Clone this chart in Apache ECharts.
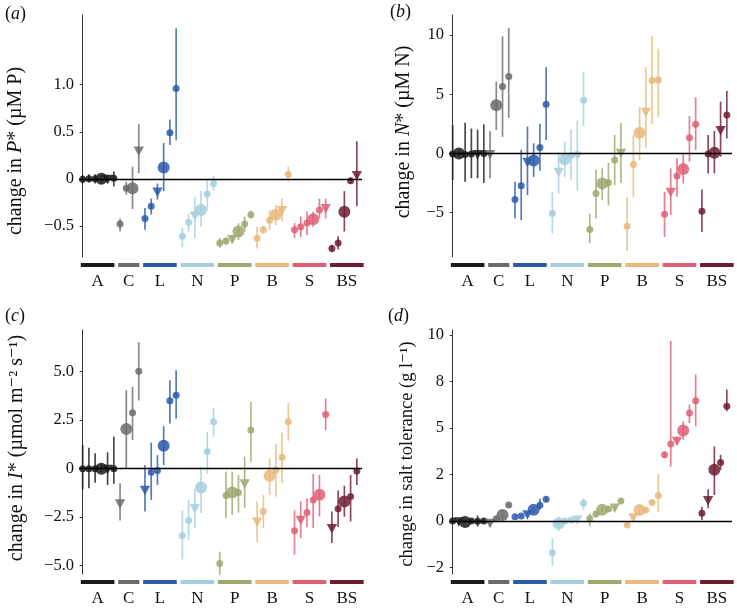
<!DOCTYPE html>
<html>
<head>
<meta charset="utf-8">
<script src="https://cdn.jsdelivr.net/npm/echarts@6/dist/echarts.min.js"></script>
<style>
  html, body { margin: 0; padding: 0; background: #fff; }
  #chart { width: 737px; height: 609px; }
</style>
</head>
<body>
<div id="chart"></div>
<script>
// groups along the x axis, in order
var groupNames = ["A", "C", "L", "N", "P", "B", "S", "BS"];
var groupSizes = [6, 4, 6, 6, 6, 6, 6, 5];
var groupSlots = [6, 4, 6, 6, 6, 6, 6, 6];
var groupColors = ["#1b1b1b", "#6b6b6b", "#2b5ba8", "#a5cfdc", "#9ea86f", "#e8b979", "#df5f76", "#6e1e31"];

// o = small circle, O = large circle, v = triangle
// (a) P*
var aMean = [
  -0.005, 0, 0, 0, 0, 0.005,
  -0.48, -0.10, -0.10, 0.30,
  -0.42, -0.29, -0.135, 0.12, 0.49, 0.96,
  -0.61, -0.46, -0.39, -0.33, -0.16, -0.05,
  -0.68, -0.66, -0.64, -0.56, -0.48, -0.38,
  -0.63, -0.54, -0.44, -0.38, -0.33, 0.05,
  -0.54, -0.51, -0.47, -0.43, -0.33, -0.31,
  -0.74, -0.68, -0.35, -0.02, 0.04];
var aLow = [
  -0.05, -0.04, -0.05, -0.05, -0.04, -0.08,
  -0.56, -0.17, -0.32, 0.06,
  -0.54, -0.38, -0.22, -0.13, 0.36, 0.41,
  -0.72, -0.56, -0.63, -0.51, -0.33, -0.13,
  -0.73, -0.70, -0.68, -0.65, -0.56, -0.42,
  -0.74, -0.58, -0.54, -0.49, -0.45, -0.03,
  -0.63, -0.62, -0.60, -0.51, -0.42, -0.42,
  -0.78, -0.75, -0.56, -0.05, -0.29];
var aHigh = [
  0.04, 0.05, 0.05, 0.04, 0.04, 0.08,
  -0.42, -0.03, 0.13, 0.58,
  -0.31, -0.21, -0.05, 0.38, 0.63, 1.60,
  -0.52, -0.37, -0.19, -0.13, -0.01, 0.035,
  -0.63, -0.62, -0.60, -0.47, -0.40, -0.34,
  -0.51, -0.50, -0.33, -0.28, -0.21, 0.13,
  -0.47, -0.40, -0.35, -0.35, -0.21, -0.21,
  -0.70, -0.61, -0.13, 0.01, 0.40];
var aShape = "oooOvo" + "ooOv" + "oovOoo" + "oovOoo" + "oovOoo" + "oooOvo" + "oooOov" + "ooOov";
var aTicks = [-0.5, 0, 0.5, 1.0];
var aTickLabels = ["\u22120.5", "0", "0.5", "1.0"];

// (b) N*
var bMean = [
  -0.05, 0.0, -0.1, -0.05, -0.05, -0.02,
  -0.05, 4.07, 5.65, 6.5,
  -3.9, -2.74, -0.7, -0.6, 0.5, 4.15,
  -5.08, -1.55, -0.5, -0.2, -0.08, 4.5,
  -6.44, -3.39, -2.54, -2.49, -0.56, 0.06,
  -6.16, -0.93, 1.75, 3.53, 6.16, 6.2,
  -5.14, -3.25, -1.92, -1.33, 1.33, 2.46,
  -4.89, -0.06, 0.06, 1.98, 3.25];
var bLow = [
  -2.26, -0.3, -2.4, -2.1, -2.1, -2.5,
  -2.1, 1.98, 1.4, 3.0,
  -5.5, -5.65, -3.53, -1.98, -1.47, 1.13,
  -6.78, -3.4, -2.0, -2.26, -3.1, 2.3,
  -7.6, -5.5, -3.95, -4.4, -2.7, -2.5,
  -8.25, -3.67, -0.56, 0.5, 2.5, 3.1,
  -7.06, -5.2, -3.67, -2.54, -0.7, 0.28,
  -6.64, -1.7, -1.7, -0.28, 1.27];
var bHigh = [
  2.4, 0.3, 2.6, 2.1, 2.0, 2.45,
  1.9, 6.07, 9.9, 10.6,
  -2.4, 0.3, 2.26, 0.85, 2.5, 7.3,
  -3.25, 0.14, 1.0, 2.06, 2.8, 6.9,
  -5.1, -1.36, -1.27, -0.8, 1.55, 2.6,
  -3.7, 1.55, 3.9, 7.3, 9.94, 8.84,
  -3.25, -1.27, -0.42, 0.06, 3.16, 4.75,
  -3.05, 1.55, 1.9, 4.38, 5.28];
var bShape = "oOoovo" + "vOoo" + "oovOoo" + "ovOooo" + "ooOoov" + "ooOvoo" + "ovoOoo" + "ooOvo";
var bTicks = [-5, 0, 5, 10];
var bTickLabels = ["\u22125", "0", "5", "10"];

// (c) I*
var cMean = [
  -0.02, -0.02, -0.02, -0.02, -0.02, -0.02,
  -1.8, 2.02, 2.86, 5.0,
  -1.11, -0.2, -0.12, 1.16, 3.48, 3.77,
  -3.46, -2.69, -2.05, -0.99, 0.86, 2.4,
  -4.91, -1.4, -1.25, -1.25, -0.77, 1.97,
  -2.74, -2.23, -0.39, -0.09, 0.57, 2.4,
  -3.22, -2.65, -2.28, -1.63, -1.37, 2.77,
  -3.08, -2.09, -1.71, -1.46, -0.14];
var cLow = [
  -1.08, -1.03, -0.74, -0.2, -0.86, -0.8,
  -2.69, 0.0, 1.46, 3.5,
  -2.23, -1.63, -0.86, 0.17, 2.31, 2.57,
  -4.7, -3.68, -3.08, -2.3, -0.26, 1.63,
  -5.5, -2.57, -2.4, -2.28, -2.05, 0.34,
  -3.82, -3.08, -1.37, -1.46, -0.77, 1.42,
  -4.45, -3.6, -3.03, -3.08, -2.48, 1.97,
  -3.85, -3.03, -2.5, -2.74, -0.86];
var cHigh = [
  1.2, 1.06, 0.77, 0.2, 0.82, 1.63,
  -0.77, 4.02, 4.2, 6.5,
  0.17, 1.32, 0.68, 2.17, 4.54, 5.05,
  -2.17, -1.63, -1.11, 0.08, 1.88, 3.13,
  -4.3, -0.17, -0.17, -0.34, 0.6, 3.42,
  -1.71, -1.37, 0.51, 1.25, 1.83, 3.37,
  -2.17, -1.71, -1.54, -0.29, -0.34, 3.6,
  -2.23, -1.15, -0.9, -0.34, 0.51];
var cShape = "oooOvo" + "vOoo" + "vooOoo" + "oovOoo" + "ooOovo" + "voOooo" + "ovooOo" + "voOoo";
var cTicks = [-5, -2.5, 0, 2.5, 5];
var cTickLabels = ["\u22125.0", "\u22122.5", "0", "2.5", "5.0"];

// (d) salt tolerance
var dMean = [
  0.0, -0.02, -0.05, 0.0, -0.02, 0.0,
  -0.09, 0.12, 0.32, 0.86,
  0.23, 0.27, 0.36, 0.6, 0.85, 1.17,
  -1.71, -0.13, 0.0, 0.05, 0.09, 0.95,
  0.14, 0.38, 0.6, 0.65, 0.72, 1.08,
  -0.22, 0.2, 0.59, 0.59, 0.99, 1.37,
  3.56, 4.14, 4.32, 4.86, 5.81, 6.47,
  0.41, 1.13, 2.75, 3.15, 6.17];
var dLow = [
  -0.1, -0.15, -0.1, -0.1, -0.3, -0.1,
  -0.15, 0.05, 0.05, 0.8,
  0.18, 0.2, 0.25, 0.45, 0.6, 1.05,
  -2.43, -0.54, -0.1, -0.05, 0.0, 0.59,
  -0.3, 0.2, 0.45, 0.5, 0.6, 1.0,
  -0.3, 0.1, 0.4, 0.45, 0.9, 0.5,
  3.4, 2.93, 4.15, 4.37, 5.27, 5.09,
  0.05, 0.68, 1.4, 2.75, 5.9];
var dHigh = [
  0.1, 0.1, 0.1, 0.1, 0.3, 0.1,
  -0.03, 0.2, 0.6, 0.92,
  0.28, 0.34, 0.47, 0.75, 1.2, 1.3,
  -0.94, 0.23, 0.1, 0.15, 0.18, 1.22,
  0.4, 0.55, 0.75, 0.8, 0.85, 1.16,
  -0.14, 0.3, 0.75, 0.7, 1.08, 2.54,
  3.7, 9.68, 4.5, 5.36, 6.26, 7.88,
  0.77, 1.71, 4.01, 3.56, 7.07];
var dShape = "ovOooo" + "voOo" + "oovOoo" + "oOoovo" + "ooOovo" + "ovOooo" + "oovOoo" + "ovOoo";
var dTicks = [-2.5, 0, 2.5, 5, 7.5, 10];
var dTickLabels = ["\u22122", "0", "2", "5", "8", "10"];

var serif = '"Liberation Serif", "DejaVu Serif", serif';
var ink = "#111";
var shapeCode = { o: 0, O: 1, v: 2 };

var panels = [
  { tag: "a", left: 79, top: 15, height: 242, ymin: -0.83, ymax: 1.74,
    mean: aMean, low: aLow, high: aHigh, shape: aShape, ticks: aTicks, labels: aTickLabels,
    name: "change in {i|P}* (\u00b5M P)", nameSize: 20, nameX: 16, nameY: 151, tagX: 5, tagY: 14 },
  { tag: "b", left: 449, top: 15, height: 242, ymin: -8.76, ymax: 11.7,
    mean: bMean, low: bLow, high: bHigh, shape: bShape, ticks: bTicks, labels: bTickLabels,
    name: "change in {i|N}* (\u00b5M N)", nameSize: 20, nameX: 404, nameY: 132, tagX: 390, tagY: 12 },
  { tag: "c", left: 79, top: 330, height: 244, ymin: -5.45, ymax: 7.13,
    mean: cMean, low: cLow, high: cHigh, shape: cShape, ticks: cTicks, labels: cTickLabels,
    name: "change in {i|I}* (\u00b5mol m\u207b\u00b2 s\u207b\u00b9)", nameSize: 20, nameX: 17, nameY: 448, tagX: 5, tagY: 316 },
  { tag: "d", left: 449, top: 330, height: 244, ymin: -2.85, ymax: 10.27,
    mean: dMean, low: dLow, high: dHigh, shape: dShape, ticks: dTicks, labels: dTickLabels,
    name: "change in salt tolerance (g l\u207b\u00b9)", nameSize: 18.5, nameX: 407, nameY: 454, tagX: 388, tagY: 316 }
];

function rgba(hex, a) {
  var n = parseInt(hex.slice(1), 16);
  return "rgba(" + (n >> 16) + "," + ((n >> 8) & 255) + "," + (n & 255) + "," + a + ")";
}

function buildRows(p) {
  var rows = [];
  var i = 0;
  groupSizes.forEach(function(n, g) {
    for (var j = 0; j < n; j++, i++) {
      rows.push([i, p.mean[i], p.low[i], p.high[i], shapeCode[p.shape.charAt(i)], g]);
    }
  });
  return rows;
}

function buildStrip() {
  var rows = [];
  var first = 0;
  groupSlots.forEach(function(n, g) {
    rows.push([first - 0.3, first + n - 1 + 0.1, g]);
    first += groupSizes[g];
  });
  return rows;
}

function renderPoint(params, api) {
  var x = api.value(0);
  var c = api.coord([x, api.value(1)]);
  var lo = api.coord([x, api.value(2)]);
  var hi = api.coord([x, api.value(3)]);
  var kind = api.value(4);
  var col = groupColors[api.value(5)];
  var children = [{
    type: "line",
    shape: { x1: c[0], y1: lo[1], x2: c[0], y2: hi[1] },
    style: { stroke: rgba(col, 0.8), lineWidth: 1.7 }
  }];
  if (kind === 2) {
    children.push({
      type: "polygon",
      shape: { points: [[c[0] - 5.2, c[1] - 4], [c[0] + 5.2, c[1] - 4], [c[0], c[1] + 5.5]] },
      style: { fill: rgba(col, 0.85) }
    });
  } else {
    children.push({
      type: "circle",
      shape: { cx: c[0], cy: c[1], r: kind === 1 ? 6 : 3.5 },
      style: { fill: rgba(col, 0.85) }
    });
  }
  return { type: "group", children: children };
}

function renderStrip(params, api) {
  var cs = params.coordSys;
  var x1 = api.coord([api.value(0), 0])[0];
  var x2 = api.coord([api.value(1), 0])[0];
  var g = api.value(2);
  var yb = cs.y + cs.height + 6;
  return {
    type: "group",
    children: [
      { type: "rect", shape: { x: x1, y: yb, width: x2 - x1, height: 4 },
        style: { fill: groupColors[g] } },
      { type: "text",
        style: { text: groupNames[g], x: (x1 + x2) / 2, y: yb + 19, align: "center",
                 verticalAlign: "middle", font: "17px " + serif, fill: ink } }
    ]
  };
}

var option = {
  backgroundColor: "#fff",
  animation: false,
  grid: [], xAxis: [], yAxis: [], series: [], graphic: []
};

panels.forEach(function(p, k) {
  option.grid.push({ left: p.left, top: p.top, width: 283, height: p.height });
  option.xAxis.push({ gridIndex: k, type: "value", min: -0.59, max: 44.83, show: false });
  option.yAxis.push({
    gridIndex: k, type: "value", min: p.ymin, max: p.ymax,
    axisLine: { show: true, lineStyle: { color: "#333", width: 1 } },
    axisTick: { show: true, length: 3, customValues: p.ticks, lineStyle: { color: "#333" } },
    axisLabel: {
      customValues: p.ticks, margin: 5, color: ink, fontFamily: serif, fontSize: 16.5,
      formatter: function(v) {
        var best = 0;
        p.ticks.forEach(function(t, j) {
          if (Math.abs(t - v) < Math.abs(p.ticks[best] - v)) best = j;
        });
        return p.labels[best];
      }
    },
    splitLine: { show: false }
  });
  option.series.push({
    type: "custom", xAxisIndex: k, yAxisIndex: k, clip: false, z: 1, silent: true,
    renderItem: renderStrip, data: buildStrip(),
    markLine: {
      silent: true, symbol: "none", label: { show: false },
      lineStyle: { color: "#000", width: 1.3, type: "solid" },
      data: [{ yAxis: 0 }]
    }
  });
  option.series.push({
    type: "custom", xAxisIndex: k, yAxisIndex: k, clip: false, z: 3, silent: true,
    renderItem: renderPoint, data: buildRows(p)
  });
  // axis title, rotated
  option.graphic.push({
    type: "text", x: p.nameX, y: p.nameY, rotation: Math.PI / 2,
    style: {
      text: p.name, x: 0, y: 0, align: "center", verticalAlign: "middle",
      font: p.nameSize + "px " + serif, fill: ink,
      rich: { i: { fontStyle: "italic", fontFamily: serif, fontSize: p.nameSize, fill: ink } }
    }
  });
  // panel tag
  option.graphic.push({
    type: "text", left: p.tagX, top: p.tagY - 9,
    style: {
      text: "({i|" + p.tag + "})", font: "18px " + serif, fill: ink,
      rich: { i: { fontStyle: "italic", fontFamily: serif, fontSize: 18, fill: ink } }
    }
  });
});

var chart = echarts.init(document.getElementById("chart"));
chart.setOption(option);
</script>
</body>
</html>
